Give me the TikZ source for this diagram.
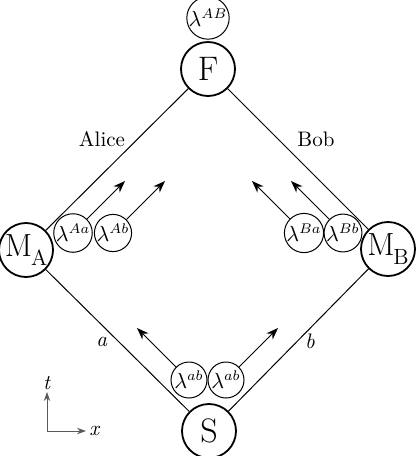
\documentclass[tikz,border=0pt]{standalone}
\usetikzlibrary{arrows.meta}
\begin{document}
\begin{tikzpicture}[x=0.5pt,y=-0.5pt,
  big/.style={circle,draw,line width=0.9pt,minimum size=27pt,inner sep=0pt},
  lam/.style={circle,draw,line width=0.5pt,minimum size=18pt,inner sep=0pt,font=\fontsize{10.5}{12}\selectfont},
  dline/.style={line width=0.5pt},
  arr/.style={line width=0.5pt,-{Stealth[length=6pt,width=4.4pt]}},
  axis/.style={line width=0.45pt,draw=black!65,-{Stealth[length=4.5pt,width=3.2pt]}},
  lbl/.style={font=\fontsize{10.5}{12}\selectfont}
]
\useasboundingbox (0,0) rectangle (416,456);
\newcommand{\bigfont}{\fontsize{17}{19}\selectfont}
\newcommand{\mfont}{\fontsize{16}{18}\selectfont}
% main nodes
\node[big,font=\bigfont] (F) at (208,69) {F};
\node[lam,minimum size=17pt] (lAB) at (208,18) {$\lambda^{AB}$};
\node[big,font=\mfont] (MA) at (26,250) {M\kern-0.03em\raisebox{-4.2pt}{\fontsize{11}{11}\selectfont A}};
\node[big,font=\mfont] (MB) at (388,249) {M\kern-0.03em\raisebox{-4.2pt}{\fontsize{11}{11}\selectfont B}};
\node[big,font=\bigfont] (S) at (209,431) {S};
% hidden variable nodes
\node[lam] (lAa) at (73,233) {$\lambda^{Aa}$};
\node[lam] (lAb) at (113,233) {$\lambda^{Ab}$};
\node[lam] (lBa) at (304,233) {$\lambda^{Ba}$};
\node[lam] (lBb) at (343,233) {$\lambda^{Bb}$};
\node[lam] (lab1) at (189,380) {$\lambda^{ab}$};
\node[lam] (lab2) at (226,380) {$\lambda^{ab}$};
% diamond
\draw[dline] (F) -- (MA);
\draw[dline] (F) -- (MB);
\draw[dline] (S) -- (MA);
\draw[dline] (S) -- (MB);
% arrows
\coordinate (tAa) at (125,181);
\coordinate (tAb) at (165,181);
\coordinate (tBa) at (252,181);
\coordinate (tBb) at (291,181);
\coordinate (tab1) at (137,328);
\coordinate (tab2) at (278,328);
\draw[arr] (lAa.45) -- (tAa);
\draw[arr] (lAb.45) -- (tAb);
\draw[arr] (lBa.135) -- (tBa);
\draw[arr] (lBb.135) -- (tBb);
\draw[arr] (lab1.135) -- (tab1);
\draw[arr] (lab2.45) -- (tab2);
% labels
\node[lbl] (alice) at (102,139) {Alice};
\node[lbl] (bob) at (316,139) {Bob};
\node[lbl] (la) at (102,342) {\textit{a}};
\node[lbl] (lb) at (310,341) {\textit{b}};
% axes
\coordinate (O) at (47,431);
\coordinate (T) at (47,392);
\coordinate (X) at (86,431);
\draw[axis] (O) -- (T);
\draw[axis] (O) -- (X);
\node[lbl,anchor=south,inner sep=1pt] (tl) at (T) {\textit{t}};
\node[lbl,anchor=west,inner sep=1.5pt] (xl) at (X) {\textit{x}};
\end{tikzpicture}
\end{document}
